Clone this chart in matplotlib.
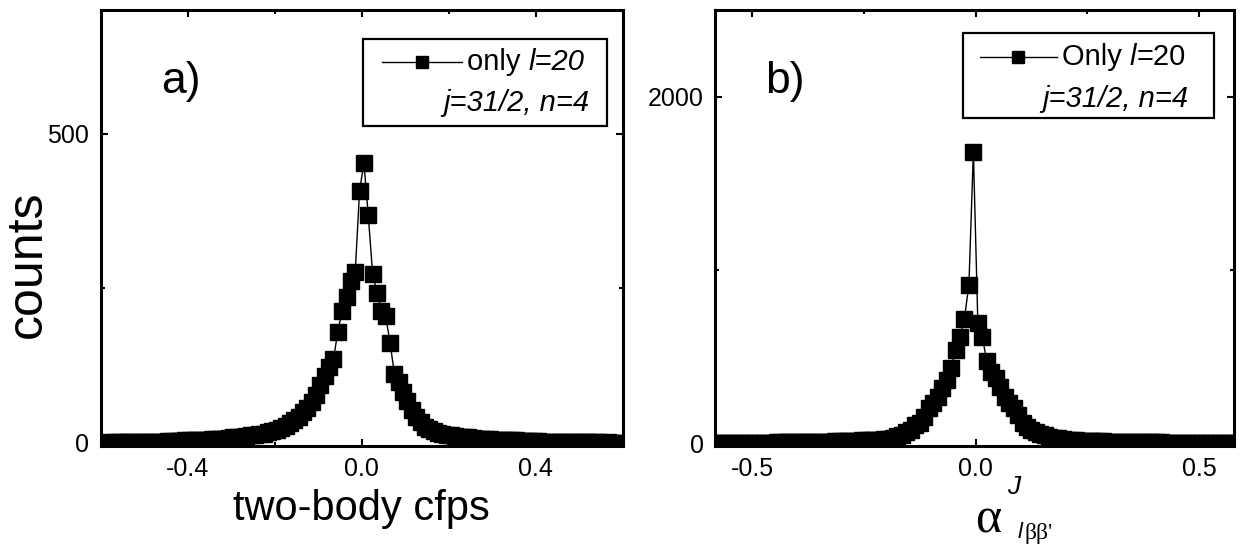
import numpy as np
import matplotlib
matplotlib.use("Agg")
import matplotlib.pyplot as plt
from matplotlib.patches import Rectangle
from matplotlib.lines import Line2D

plt.rcParams["font.family"] = ["Liberation Sans", "DejaVu Sans"]
plt.rcParams["axes.unicode_minus"] = False

# histogram bins: width 0.01 from -0.6 to 0.6
bin_edges = np.linspace(-0.6, 0.6, 121)
bin_centers = 0.5 * (bin_edges[:-1] + bin_edges[1:])

# a) two-body cfps, only l=20
counts_cfp = [
    0, 1, 0, 1, 1, 1, 1, 1, 1,
    2, 1, 2, 2, 2, 2, 3, 3, 3, 3,
    4, 4, 4, 5, 5, 5, 6, 6, 7, 7,
    8, 9, 9, 10, 11, 12, 13, 14, 15, 17,
    19, 21, 24, 28, 32, 37, 42, 50, 57, 66,
    78, 93, 108, 122, 135, 180, 214, 236, 262, 276,
    408,
    453, 368, 273, 243, 214, 205, 162, 112, 99, 82,
    68, 53, 42, 34, 26, 22, 19, 16, 14, 13,
    12, 11, 10, 9, 9, 8, 7, 7, 6, 6,
    5, 5, 5, 4, 4, 4, 3, 3, 3, 3,
    3, 2, 2, 2, 2, 2, 1, 1, 1, 1,
    1, 1, 1, 1, 1, 0, 1, 0, 0, 0,
]

# b) alpha^J_{l beta beta'}, only l=20
counts_alpha = [
    1, 1, 1, 1, 2, 2, 2, 2, 2,
    2, 3, 3, 3, 3, 3, 4, 4, 4, 5,
    5, 5, 6, 6, 6, 7, 7, 8, 8, 9,
    10, 11, 12, 13, 14, 15, 16, 17, 18, 20,
    22, 25, 30, 38, 46, 65, 75, 104, 115, 151,
    201, 230, 266, 316, 362, 431, 535, 612, 719, 915,
    1682,
    692, 610, 474, 410, 374, 324, 266, 230, 201, 161,
    115, 95, 78, 64, 52, 44, 37, 31, 27, 23,
    20, 18, 16, 14, 13, 12, 11, 10, 9, 8,
    8, 7, 7, 6, 6, 5, 5, 5, 4, 4,
    4, 4, 3, 3, 3, 3, 3, 2, 2, 2,
    2, 2, 2, 2, 1, 1, 1, 1, 1, 1,
]

W, H = 1240, 553
fig = plt.figure(figsize=(W / 100, H / 100), dpi=100)

ax_a = fig.add_axes([100.5 / W, 107 / H, 522.5 / W, 436 / H])
ax_b = fig.add_axes([715 / W, 107 / H, 519 / W, 436 / H])

MS = 12


def style_axes(ax):
    for sp in ax.spines.values():
        sp.set_linewidth(2.2)
    ax.tick_params(which="both", direction="in", top=True, right=True,
                   width=1.5, labelsize=18, pad=8)
    ax.tick_params(which="major", length=5)
    ax.tick_params(which="minor", length=3)


def draw_legend(ax, box, line_x, line_y, text1_parts, text2_xy):
    ax.add_patch(Rectangle((box[0], box[1]), box[2] - box[0], box[3] - box[1],
                           transform=ax.transAxes, fill=False, lw=1.6,
                           ec="black", zorder=5))
    ax.add_line(Line2D(line_x, [line_y, line_y], transform=ax.transAxes,
                       color="black", lw=1, zorder=6))
    ax.add_line(Line2D([np.mean(line_x)], [line_y], transform=ax.transAxes,
                       marker="s", color="black", ms=8, zorder=6))
    t = None
    x0 = line_x[1] + 0.01
    for txt, style in text1_parts:
        if t is None:
            t = ax.text(x0, line_y, txt, transform=ax.transAxes, fontsize=21,
                        fontstyle=style, va="center", ha="left", zorder=6)
        else:
            t = ax.annotate(txt, xycoords=t, xy=(1, 0), va="bottom",
                            ha="left", fontsize=21, fontstyle=style, zorder=6)
    ax.text(text2_xy[0], text2_xy[1], "j=31/2, n=4", transform=ax.transAxes,
            fontsize=21, fontstyle="italic", va="center", ha="right", zorder=6)


# ---- panel a ----
ax_a.plot(bin_centers, counts_cfp, "-s", color="black", lw=1, ms=MS)
ax_a.set_xlim(-0.6, 0.6)
ax_a.set_ylim(-5, 700)
ax_a.set_xticks([-0.4, 0.0, 0.4])
ax_a.set_xticks([-0.6, -0.2, 0.2, 0.6], minor=True)
ax_a.set_yticks([0, 500])
ax_a.set_yticks([250], minor=True)
ax_a.set_yticklabels(["0", "500"])
style_axes(ax_a)
ax_a.text(0.116, 0.837, "a)", transform=ax_a.transAxes, fontsize=32,
          va="center", ha="left")
draw_legend(ax_a, (0.502, 0.734, 0.969, 0.933), [0.538, 0.691], 0.881,
            [("only ", "normal"), ("l=20", "italic")], (0.935, 0.787))
ax_a.set_xlabel("two-body cfps", fontsize=30, labelpad=6)
fig.text(28 / W, 1 - 264 / H, "counts", rotation=90, fontsize=36,
         va="center", ha="center")

# ---- panel b ----
ax_b.plot(bin_centers, counts_alpha, "-s", color="black", lw=1, ms=MS)
ax_b.set_xlim(-0.583, 0.578)
ax_b.set_ylim(-17, 2500)
ax_b.set_xticks([-0.5, 0.0, 0.5])
ax_b.set_xticks([-0.25, 0.25], minor=True)
ax_b.set_yticks([0, 2000])
ax_b.set_yticks([1000], minor=True)
ax_b.set_yticklabels(["0", "2000"])
style_axes(ax_b)
ax_b.text(0.096, 0.837, "b)", transform=ax_b.transAxes, fontsize=32,
          va="center", ha="left")
draw_legend(ax_b, (0.478, 0.752, 0.961, 0.947), [0.511, 0.658], 0.893,
            [("Only ", "normal"), ("l", "italic"), ("=20", "normal")],
            (0.912, 0.797))

# x label of panel b: alpha^J_{l beta beta'}
fig.text(988 / W, 1 - 520 / H, "\u03b1", fontsize=36,
         family=["Liberation Serif", "DejaVu Serif"], ha="center", va="center")
fig.text(1014 / W, 1 - 487 / H, "J", fontsize=19, fontstyle="italic",
         ha="center", va="center")
fig.text(1018 / W, 1 - 533 / H, "l", fontsize=16, fontstyle="italic",
         ha="left", va="center")
fig.text(1024 / W, 1 - 533 / H, "\u03b2\u03b2'", fontsize=17,
         family=["Liberation Serif", "DejaVu Serif"], ha="left", va="center")

fig.savefig("out.png", dpi=100)
